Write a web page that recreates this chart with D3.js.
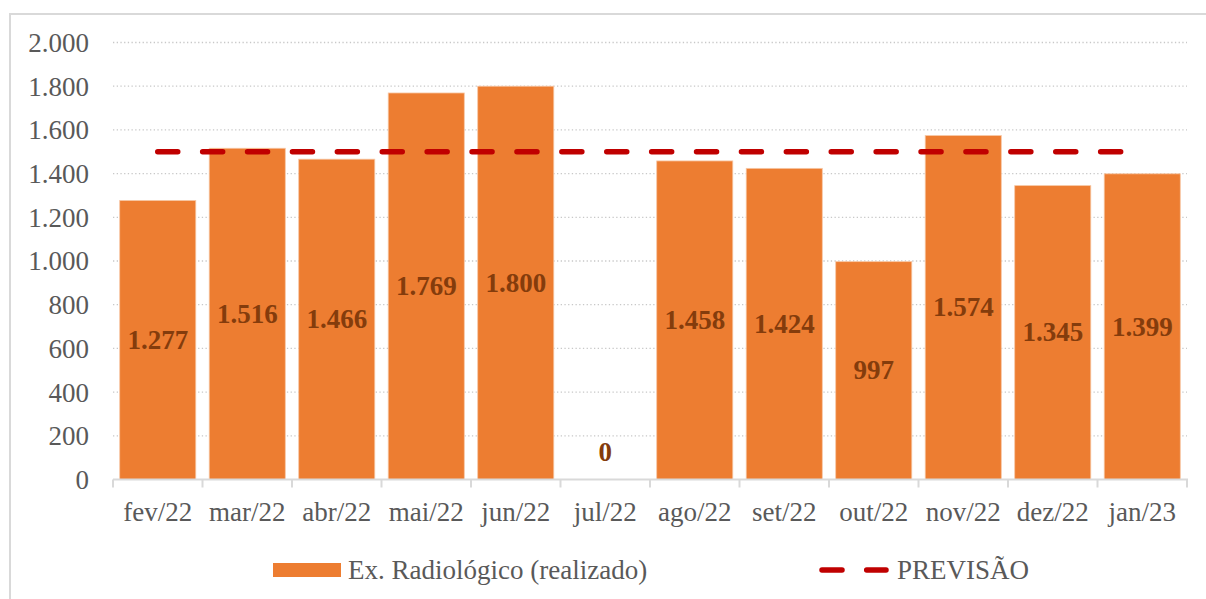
<!DOCTYPE html>
<html>
<head>
<meta charset="utf-8">
<script src="https://cdn.jsdelivr.net/npm/d3@7"></script>
<style>
  body { margin: 0; background: #fff; }
  text { font-family: "Liberation Serif", "Times New Roman", serif; }
</style>
</head>
<body>
<script>
//chart data
var months = ["fev/22", "mar/22", "abr/22", "mai/22", "jun/22", "jul/22", "ago/22", "set/22", "out/22", "nov/22", "dez/22", "jan/23"];
var realizado = [1277, 1516, 1466, 1769, 1800, 0, 1458, 1424, 997, 1574, 1345, 1399];
var previsao = [1500, 1500, 1500, 1500, 1500, 1500, 1500, 1500, 1500, 1500, 1500, 1500];
var yTicks = [0, 200, 400, 600, 800, 1000, 1200, 1400, 1600, 1800, 2000];

var width = 1206, height = 599;
var fontSize = "27px";

var svg = d3.select("body").append("svg")
    .attr("width", width)
    .attr("height", height);

//outer chart border (only top and left visible)
svg.append("rect")
    .attr("x", 10).attr("y", 14)
    .attr("width", 1260).attr("height", 640)
    .attr("fill", "none")
    .attr("stroke", "#d9d9d9")
    .attr("stroke-width", 2);

var x = d3.scaleBand()
    .domain(months)
    .range([113, 1187])
    .paddingInner(0.15)
    .paddingOuter(0.075);

var y = d3.scaleLinear()
    .domain([0, 2000])
    .range([479.5, 42.5]);

var fmt = function(v){ return d3.format(",")(v).replace(/,/g, "."); };

//gridlines
svg.append("g").selectAll("line")
    .data(yTicks.filter(function(d){ return d > 0; }))
    .enter().append("line")
    .attr("x1", 113).attr("x2", 1187)
    .attr("y1", function(d){ return y(d); })
    .attr("y2", function(d){ return y(d); })
    .attr("stroke", "#c8c8c8")
    .attr("stroke-width", 1.3)
    .attr("stroke-dasharray", "1.3,2.4");

//y axis labels
var yAxis = d3.axisLeft(y).tickValues(yTicks).tickSize(0).tickPadding(0).tickFormat(fmt);
svg.append("g")
    .attr("transform", "translate(89,0)")
    .call(yAxis)
    .call(function(g){ g.select(".domain").remove(); })
    .selectAll("text")
    .attr("fill", "#595959")
    .attr("dy", "0.33em")
    .style("font-size", fontSize)
    .style("font-family", "Liberation Serif, serif");

//bars
svg.append("g").selectAll("rect")
    .data(realizado)
    .enter().append("rect")
    .attr("x", function(d, i){ return x(months[i]); })
    .attr("y", function(d){ return y(d); })
    .attr("width", x.bandwidth())
    .attr("height", function(d){ return y(0) - y(d); })
    .attr("fill", "#ED7D31")
    .attr("stroke", "#f7c7a5")
    .attr("stroke-width", 0.8);

//x axis
var xAxis = d3.axisBottom(x).tickSize(0).tickPadding(0);
var gx = svg.append("g")
    .attr("transform", "translate(0," + y(0) + ")")
    .call(xAxis);
gx.select(".domain").attr("stroke", "#d9d9d9").attr("stroke-width", 2).attr("d", "M113,0H1188");
gx.selectAll("text")
    .attr("y", 33)
    .attr("dy", "0.33em")
    .attr("fill", "#595959")
    .style("font-size", fontSize)
    .style("font-family", "Liberation Serif, serif");

//category boundary ticks
svg.append("g").selectAll("line")
    .data(d3.range(months.length + 1))
    .enter().append("line")
    .attr("x1", function(i){ return 113 + i * (1074 / months.length); })
    .attr("x2", function(i){ return 113 + i * (1074 / months.length); })
    .attr("y1", y(0)).attr("y2", y(0) + 8)
    .attr("stroke", "#d9d9d9")
    .attr("stroke-width", 2);

//forecast line
var line = d3.line()
    .x(function(d, i){ return x(months[i]) + x.bandwidth() / 2; })
    .y(function(d){ return y(d); });

svg.append("path")
    .datum(previsao)
    .attr("d", line)
    .attr("fill", "none")
    .attr("stroke", "#C00000")
    .attr("stroke-width", 5.5)
    .attr("stroke-linecap", "round")
    .attr("stroke-dasharray", "20,24.9");

//value labels
svg.append("g").selectAll("text")
    .data(realizado)
    .enter().append("text")
    .attr("x", function(d, i){ return x(months[i]) + x.bandwidth() / 2; })
    .attr("y", function(d){ return d > 0 ? (y(d) + y(0)) / 2 : y(0) - 27; })
    .attr("dy", "0.33em")
    .attr("text-anchor", "middle")
    .attr("fill", "#843C0C")
    .style("font-size", fontSize)
    .style("font-weight", "bold")
    .text(fmt);

//legend
var legend = svg.append("g");
legend.append("rect")
    .attr("x", 273).attr("y", 563)
    .attr("width", 68).attr("height", 14)
    .attr("fill", "#ED7D31");
legend.append("text")
    .attr("x", 348).attr("y", 570).attr("dy", "0.33em")
    .attr("fill", "#595959")
    .style("font-size", fontSize)
    .text("Ex. Radiológico (realizado)");
legend.append("line")
    .attr("x1", 822).attr("x2", 886)
    .attr("y1", 570).attr("y2", 570)
    .attr("stroke", "#C00000")
    .attr("stroke-width", 5.5)
    .attr("stroke-linecap", "round")
    .attr("stroke-dasharray", "20,24.7");
legend.append("text")
    .attr("x", 897).attr("y", 570).attr("dy", "0.33em")
    .attr("fill", "#595959")
    .style("font-size", fontSize)
    .text("PREVISÃO");
</script>
</body>
</html>
